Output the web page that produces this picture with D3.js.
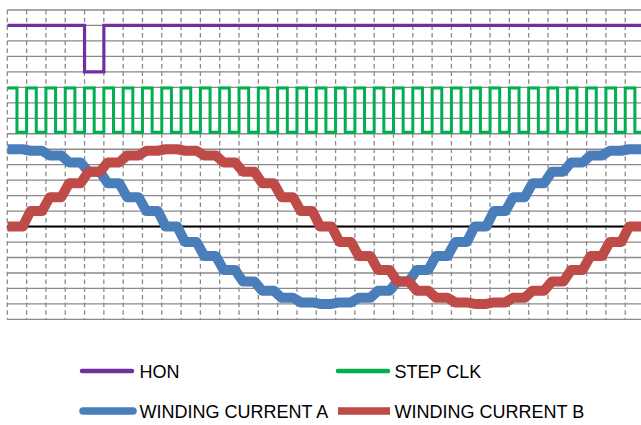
<!DOCTYPE html>
<html><head><meta charset="utf-8">
<script src="https://cdn.jsdelivr.net/npm/d3@7"></script>
<style>html,body{margin:0;padding:0;background:#fff;}svg{display:block;}</style>
</head><body>
<script>
// ---- data ----
// clock index of each microstep (one step per STEP CLK period)
const steps = [0,1,2,3,4,5,6,7,8,9,10,11,12,13,14,15,16,17,18,19,20,21,22,23,24,25,26,27,28,29,30,31,32];
const hon = [2.6,2.6,2.6,2.6,2.0,2.6,2.6,2.6,2.6,2.6,2.6,2.6,2.6,2.6,2.6,2.6,2.6,2.6,2.6,2.6,2.6,2.6,2.6,2.6,2.6,2.6,2.6,2.6,2.6,2.6,2.6,2.6,2.6];
// STEP CLK level for each half clock period
const stepClk = [1.79,1.22,1.79,1.22,1.79,1.22,1.79,1.22,1.79,1.22,1.79,1.22,1.79,1.22,1.79,1.22,1.79,1.22,1.79,1.22,1.79,1.22,1.79,1.22,1.79,1.22,1.79,1.22,1.79,1.22,1.79,1.22,1.79,1.22,1.79,1.22,1.79,1.22,1.79,1.22,1.79,1.22,1.79,1.22,1.79,1.22,1.79,1.22,1.79,1.22,1.79,1.22,1.79,1.22,1.79,1.22,1.79,1.22,1.79,1.22,1.79,1.22,1.79,1.22,1.79,1.22];
const currentA = [1.00,0.98,0.92,0.83,0.71,0.56,0.38,0.20,0.00,-0.20,-0.38,-0.56,-0.71,-0.83,-0.92,-0.98,-1.00,-0.98,-0.92,-0.83,-0.71,-0.56,-0.38,-0.20,0.00,0.20,0.38,0.56,0.71,0.83,0.92,0.98,1.00];
const currentB = [0.00,0.20,0.38,0.56,0.71,0.83,0.92,0.98,1.00,0.98,0.92,0.83,0.71,0.56,0.38,0.20,0.00,-0.20,-0.38,-0.56,-0.71,-0.83,-0.92,-0.98,-1.00,-0.98,-0.92,-0.83,-0.71,-0.56,-0.38,-0.20,0.00];
const seriesNames = ["HON","STEP CLK","WINDING CURRENT A","WINDING CURRENT B"];
const yDomain = [-1.2, 2.8];
const xDomain = [0, 33];

// ---- layout ----
const W = 641, H = 425;
const plotLeft = 7.3, plotRight = 641, stepPx = 19.31, plotTop = 10, plotBottom = 319.4;
const colors = {hon:"#7030A0", clk:"#00B050", a:"#4A7EBB", b:"#BE4B48"};

const svg = d3.select("body").append("svg").attr("width", W).attr("height", H);

const x = d3.scaleLinear().domain(xDomain).range([plotLeft, plotLeft + stepPx * xDomain[1]]);
const y = d3.scaleLinear().domain(yDomain).range([plotBottom, plotTop]);

svg.append("defs").append("clipPath").attr("id","clip")
  .append("rect").attr("x", plotLeft).attr("y", 0).attr("width", plotRight - plotLeft).attr("height", 335);

const grid = svg.append("g");
// horizontal solid gridlines
grid.selectAll("line.h").data(y.ticks(20)).join("line")
  .attr("x1", plotLeft).attr("x2", plotRight)
  .attr("y1", d => y(d)).attr("y2", d => y(d))
  .attr("stroke", "#8a8a8a").attr("stroke-width", 1.3);
// vertical dashed gridlines
grid.selectAll("line.v").data(x.ticks(33).filter(d => x(d) <= plotRight)).join("line")
  .attr("x1", d => x(d)).attr("x2", d => x(d))
  .attr("y1", plotTop).attr("y2", plotBottom)
  .attr("stroke", "#8a8a8a").attr("stroke-width", 1.3)
  .attr("stroke-dasharray", "4.5,3.2");

// zero axis line
svg.append("line").attr("x1", plotLeft).attr("x2", plotRight)
  .attr("y1", y(0)).attr("y2", y(0)).attr("stroke", "#000").attr("stroke-width", 2);

const line = d3.line().x(d => x(d[0])).y(d => y(d[1]));

// step shape helpers
function hardSteps(levels, width) {
  const pts = [];
  levels.forEach((v, i) => { pts.push([i * width, v]); pts.push([(i + 1) * width, v]); });
  return pts;
}
function softSteps(levels, tw) {
  const pts = [];
  levels.forEach((v, i) => {
    const k = steps[i];
    pts.push([i === 0 ? k : k + tw / 2, v]);
    pts.push([i === levels.length - 1 ? k + 1 : k + 1 - tw / 2, v]);
  });
  return pts;
}

const plot = svg.append("g").attr("clip-path", "url(#clip)");
plot.append("path").attr("d", line(hardSteps(hon, 1)))
  .attr("fill","none").attr("stroke", colors.hon).attr("stroke-width", 3.2);
plot.append("path").attr("d", line(hardSteps(stepClk, 0.5)))
  .attr("fill","none").attr("stroke", colors.clk).attr("stroke-width", 3);
plot.append("path").attr("d", line(softSteps(currentA, 0.4)))
  .attr("fill","none").attr("stroke", colors.a).attr("stroke-width", 10).attr("stroke-linejoin","round");
plot.append("path").attr("d", line(softSteps(currentB, 0.4)))
  .attr("fill","none").attr("stroke", colors.b).attr("stroke-width", 10).attr("stroke-linejoin","round");

// ---- legend ----
const legendItems = [
  {name: seriesNames[0], color: colors.hon, w: 4.5, cap: "round", x1: 82, x2: 132, tx: 139.5, ly: 371},
  {name: seriesNames[1], color: colors.clk, w: 4.5, cap: "round", x1: 338, x2: 388, tx: 394.5, ly: 371},
  {name: seriesNames[2], color: colors.a, w: 7.5, cap: "round", x1: 83, x2: 133, tx: 139.5, ly: 411},
  {name: seriesNames[3], color: colors.b, w: 7.5, cap: "butt", x1: 338, x2: 390, tx: 394.5, ly: 411}
];
const lg = svg.append("g").selectAll("g").data(legendItems).join("g");
lg.append("line")
  .attr("x1", d => d.x1).attr("x2", d => d.x2)
  .attr("y1", d => d.ly).attr("y2", d => d.ly)
  .attr("stroke", d => d.color).attr("stroke-width", d => d.w).attr("stroke-linecap", d => d.cap);
lg.append("text")
  .attr("x", d => d.tx).attr("y", d => d.ly + 6.5)
  .attr("font-family", "Liberation Sans, Arial, sans-serif").attr("font-size", 18).attr("fill", "#000")
  .text(d => d.name);
</script>
</body></html>
